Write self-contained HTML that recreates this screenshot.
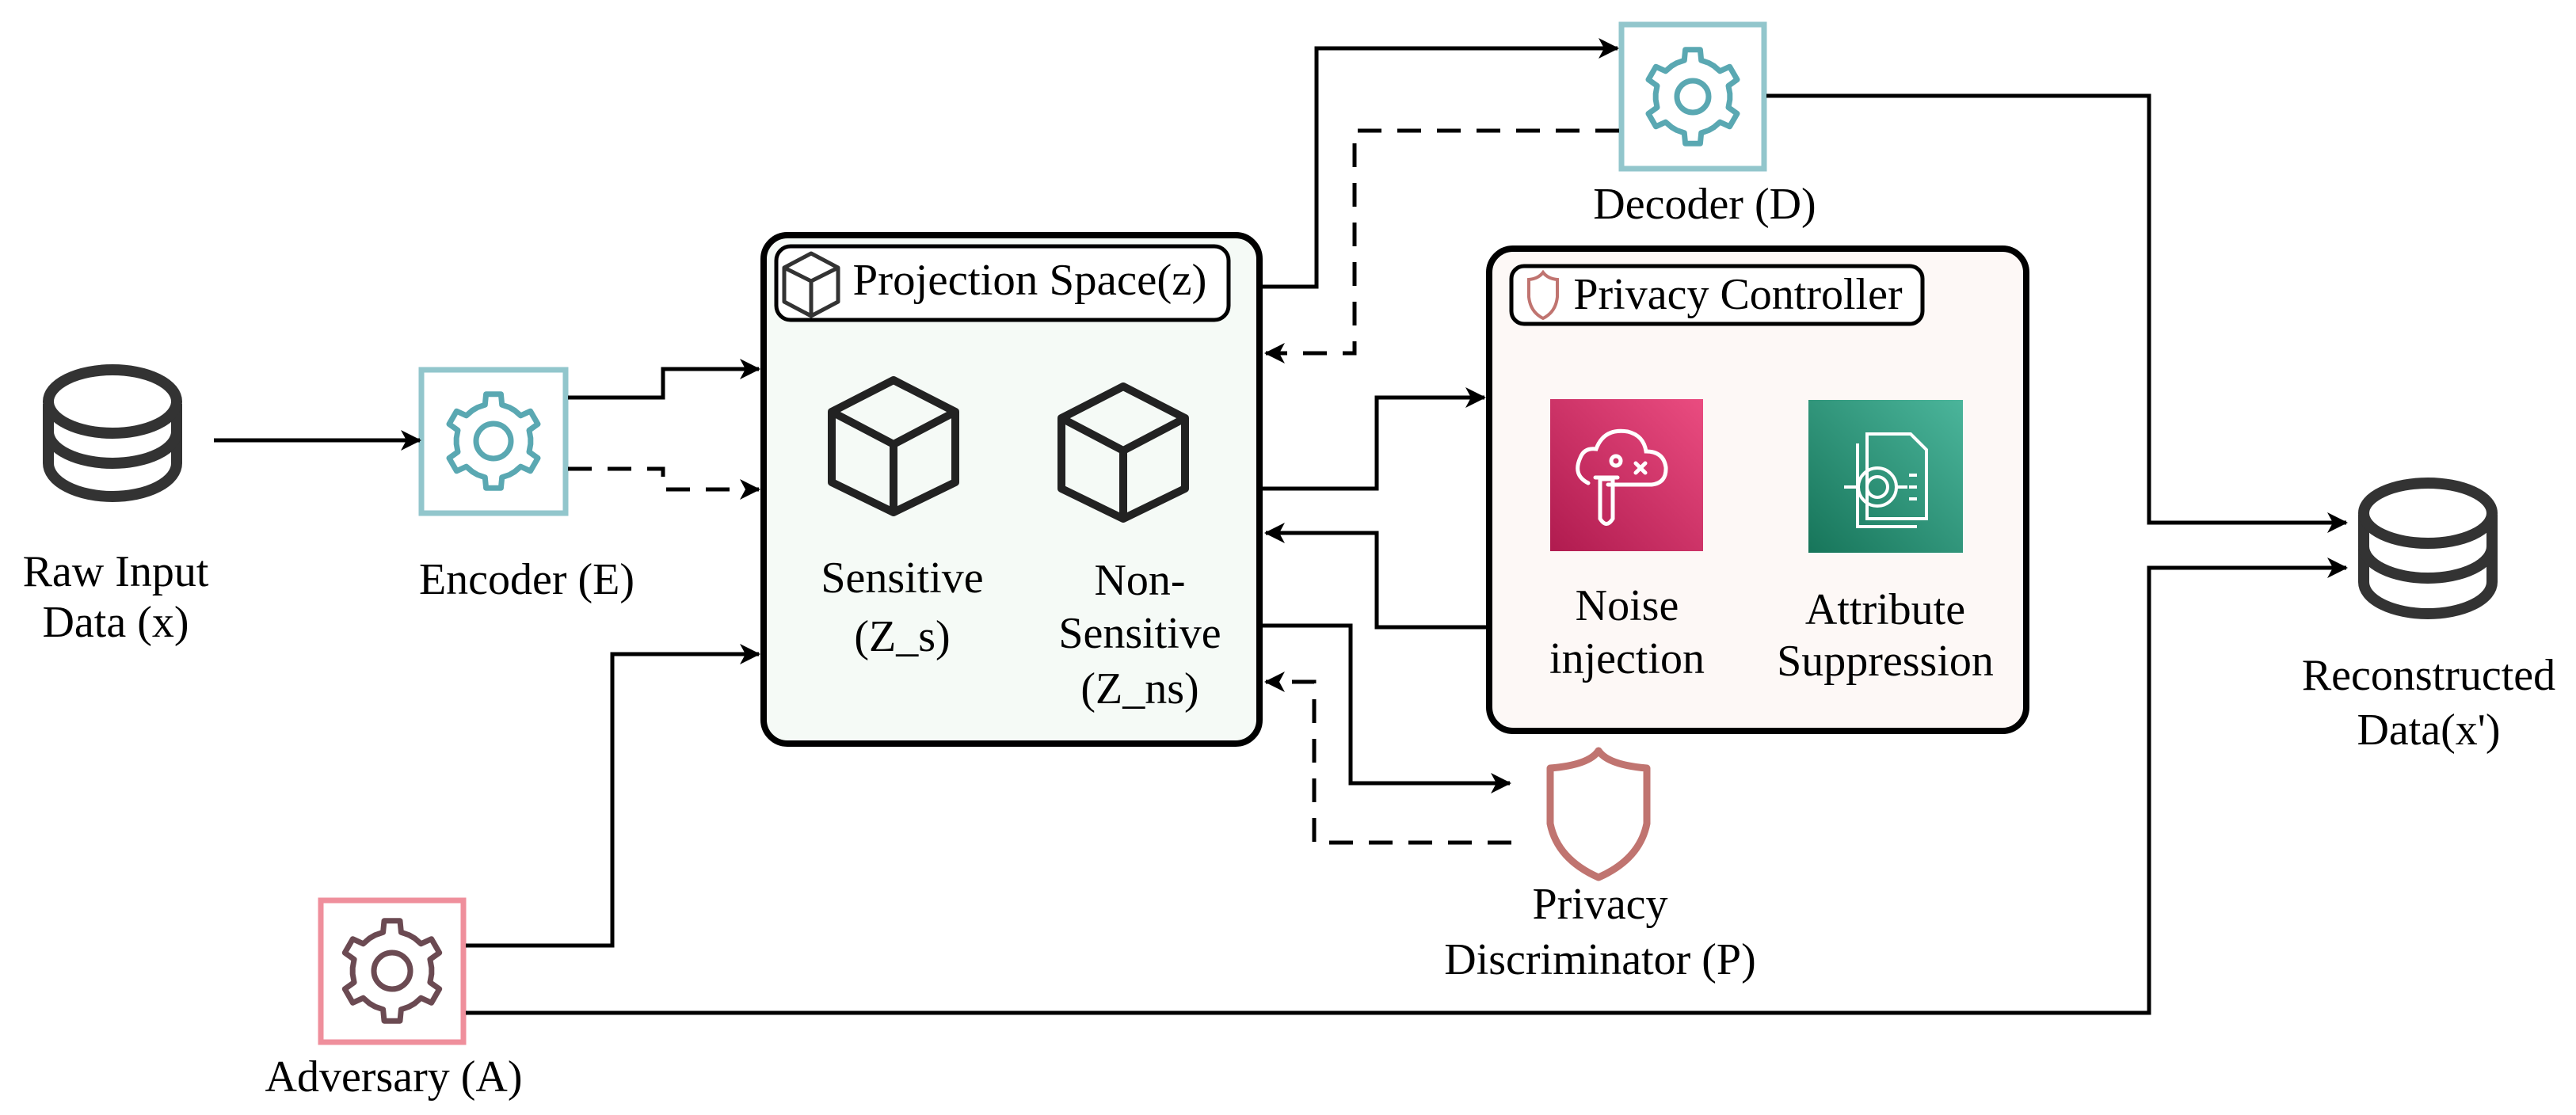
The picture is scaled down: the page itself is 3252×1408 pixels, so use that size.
<!DOCTYPE html>
<html><head><meta charset="utf-8"><style>
html,body{margin:0;padding:0;background:#fff;}
svg{display:block;}
text{font-family:"Liberation Serif","Times New Roman","DejaVu Serif",serif;font-size:56px;fill:#000;}
</style></head><body>
<svg id="s" width="3252" height="1408" viewBox="0 0 3252 1408" xmlns="http://www.w3.org/2000/svg" font-family="Liberation Serif, Times New Roman, DejaVu Serif, serif">
<defs>
<marker id="ar" markerUnits="userSpaceOnUse" markerWidth="30" markerHeight="30" refX="24" refY="15" orient="auto">
<path d="M0,2 L26,15 L0,28 L7,15 Z" fill="#000"/>
</marker>
<linearGradient id="gp" x1="1" y1="0" x2="0" y2="1"><stop offset="0" stop-color="#ea4c80"/><stop offset="1" stop-color="#b01b4f"/></linearGradient>
<linearGradient id="gg" x1="1" y1="0" x2="0" y2="1"><stop offset="0" stop-color="#4bb59b"/><stop offset="1" stop-color="#17755a"/></linearGradient>
</defs>

<g fill="none" stroke="#333" stroke-width="14">
<path d="M61,510 V585 A81,42 0 0 0 223,585 V510"/>
<ellipse cx="142" cy="507" rx="81" ry="40"/>
<path d="M61,545 A81,40 0 0 0 223,545"/>
<path d="M2984,650 V735 A81,40 0 0 0 3146,735 V650"/>
<ellipse cx="3065" cy="648" rx="81" ry="38"/>
<path d="M2984,690 A81,40 0 0 0 3146,690"/>
</g>

<rect x="532" y="467" width="182" height="181" fill="#fff" stroke="#92c6cc" stroke-width="7"/>
<rect x="2047" y="31" width="180" height="182" fill="#fff" stroke="#92c6cc" stroke-width="7"/>
<rect x="405" y="1137" width="180" height="179" fill="#fff" stroke="#ef8f9c" stroke-width="7"/>
<g id="gears"></g>

<rect x="964" y="297" width="626" height="642" rx="30" fill="#f5faf6" stroke="#000" stroke-width="8"/>
<rect x="980" y="311" width="571" height="93" rx="18" fill="#fff" stroke="#000" stroke-width="5"/>
<g fill="none" stroke="#333" stroke-width="5" stroke-linejoin="round">
<path d="M1024,320 L1058,338 L1058,381 L1024,399 L990,381 L990,338 Z M990,338 L1024,355 L1058,338 M1024,355 L1024,399"/>
</g>
<g fill="none" stroke="#222" stroke-width="10" stroke-linejoin="round">
<path d="M1128,480 L1206,520 L1206,609 L1128,647 L1050,609 L1050,520 Z M1050,520 L1128,561 L1206,520 M1128,561 L1128,647"/>
<path d="M1418,488 L1496,528 L1496,617 L1418,655 L1340,617 L1340,528 Z M1340,528 L1418,569 L1496,528 M1418,569 L1418,655"/>
</g>
<text x="1300" y="372" text-anchor="middle" textLength="447" lengthAdjust="spacingAndGlyphs">Projection Space(z)</text>
<text x="1139" y="748" text-anchor="middle">Sensitive</text>
<text x="1139" y="822" text-anchor="middle">(Z_s)</text>
<text x="1439" y="751" text-anchor="middle">Non-</text>
<text x="1439" y="818" text-anchor="middle">Sensitive</text>
<text x="1439" y="888" text-anchor="middle">(Z_ns)</text>

<rect x="1880" y="314" width="678" height="609" rx="30" fill="#fdf8f6" stroke="#000" stroke-width="8"/>
<rect x="1908" y="336" width="519" height="73" rx="16" fill="#fff" stroke="#000" stroke-width="5"/>
<path d="M1948,344 Q1942,352 1930,353 V375 Q1932,394 1948,402 Q1964,394 1966,375 V353 Q1954,352 1948,344 Z" fill="none" stroke="#c07470" stroke-width="4"/>
<text x="2194" y="390" text-anchor="middle">Privacy Controller</text>
<rect x="1957" y="504" width="193" height="192" fill="url(#gp)"/>
<g fill="none" stroke="#fff" stroke-width="5" stroke-linecap="round">
<path d="M2005,610 Q1985,600 1995,578 Q2000,565 2015,567 Q2025,540 2055,545 Q2075,550 2078,570 Q2100,570 2103,590 Q2104,610 2085,612 H2030"/>
<circle cx="2040" cy="582" r="6"/>
<path d="M2065,585 l12,12 M2077,585 l-12,12"/>
<path d="M2020,605 V655 Q2028,668 2036,655 V605 Z"/>
<path d="M2014,603 H2042"/>
</g>
<rect x="2283" y="505" width="195" height="193" fill="url(#gg)"/>
<g fill="none" stroke="#fff" stroke-width="4">
<path d="M2357,548 H2412 L2432,568 V655 H2357 Z"/>
<path d="M2345,560 V665 H2420"/>
<circle cx="2370" cy="615" r="24"/>
<circle cx="2370" cy="615" r="13"/>
<path d="M2328,615 H2346 M2394,615 H2408 M2410,600 H2420 M2410,615 H2420 M2410,630 H2420"/>
</g>
<text x="2054" y="783" text-anchor="middle">Noise</text>
<text x="2054" y="850" text-anchor="middle">injection</text>
<text x="2380" y="788" text-anchor="middle">Attribute</text>
<text x="2380" y="853" text-anchor="middle">Suppression</text>

<path d="M2018,948 Q2006,966 1957,970 V1040 Q1966,1085 2018,1108 Q2070,1085 2079,1040 V970 Q2030,966 2018,948 Z" fill="none" stroke="#c07470" stroke-width="9" stroke-linejoin="round"/>

<g fill="none" stroke="#000" stroke-width="5" marker-end="url(#ar)">
<path d="M270,556 H530"/>
<path d="M717,502 H837 V466 H958"/>
<path d="M717,592 H837 V618 H958" stroke-dasharray="30,20"/>
<path d="M588,1194 H773 V826 H958"/>
<path d="M588,1279 H2713 V717 H2962"/>
<path d="M1594,362 H1662 V61 H2042"/>
<path d="M2230,121 H2713 V660 H2962"/>
<path d="M2044,165 H1710 V446 H1598" stroke-dasharray="30,20"/>
<path d="M1594,617 H1738 V502 H1874"/>
<path d="M1876,792 H1738 V673 H1598"/>
<path d="M1594,790 H1705 V989 H1906"/>
<path d="M1908,1064 H1659 V861 H1598" stroke-dasharray="30,20"/>
</g>

<text x="146" y="740" text-anchor="middle">Raw Input</text>
<text x="146" y="804" text-anchor="middle">Data (x)</text>
<text x="665" y="750" text-anchor="middle">Encoder (E)</text>
<text x="497" y="1378" text-anchor="middle">Adversary (A)</text>
<text x="2152" y="276" text-anchor="middle">Decoder (D)</text>
<text x="2020" y="1160" text-anchor="middle">Privacy</text>
<text x="2020" y="1230" text-anchor="middle">Discriminator (P)</text>
<text x="3066" y="871" text-anchor="middle">Reconstructed</text>
<text x="3066" y="940" text-anchor="middle">Data(x')</text>
</svg>
<script>
(function(){
function gear(cx,cy,R,r,hole,color){
  var n=6,d='',st=2*Math.PI/n;
  for(var i=0;i<n;i++){
    var a=i*st-Math.PI/2;
    var pts=[[r,a-st*0.5+0.08],[r,a-st*0.22],[R,a-st*0.15],[R,a+st*0.15],[r,a+st*0.22],[r,a+st*0.5-0.08]];
    pts.forEach(function(p,j){var x=cx+p[0]*Math.cos(p[1]),y=cy+p[0]*Math.sin(p[1]);d+=(i==0&&j==0?'M':'L')+x.toFixed(1)+','+y.toFixed(1);});
  }
  d+='Z';
  var g=document.getElementById('gears');
  var p=document.createElementNS('http://www.w3.org/2000/svg','path');
  p.setAttribute('d',d);p.setAttribute('fill','none');p.setAttribute('stroke',color);p.setAttribute('stroke-width','7');p.setAttribute('stroke-linejoin','round');
  g.appendChild(p);
  var c=document.createElementNS('http://www.w3.org/2000/svg','circle');
  c.setAttribute('cx',cx);c.setAttribute('cy',cy);c.setAttribute('r',hole);c.setAttribute('fill','none');c.setAttribute('stroke',color);c.setAttribute('stroke-width','7');
  g.appendChild(c);
}
gear(623,557,60,47,22,'#5aa8b2');
gear(2137,122,60,47,20,'#5aa8b2');
gear(495,1226,64,50,23,'#6b4a52');
})();
</script>
</body></html>
